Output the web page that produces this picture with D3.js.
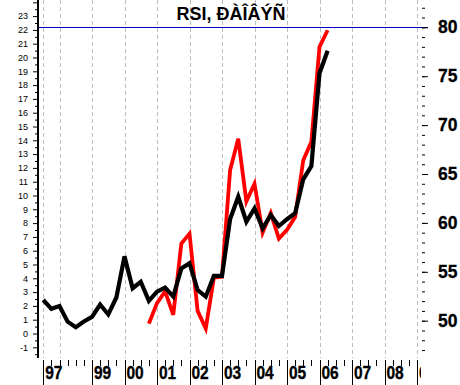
<!DOCTYPE html>
<html>
<head>
<meta charset="utf-8">
<script src="https://cdn.jsdelivr.net/npm/d3@7"></script>
<style>
body { margin: 0; background: #fff; }
svg { display: block; font-family: "Liberation Sans", Arial, sans-serif; }
</style>
</head>
<body>
<div id="container"></div>
<script>
// quarterly points, 97Q3 .. 06Q2
var periods = ["97Q3","97Q4","98Q1","98Q2","98Q3","98Q4","99Q1","99Q2","99Q3","99Q4",
  "00Q1","00Q2","00Q3","00Q4","01Q1","01Q2","01Q3","01Q4","02Q1","02Q2","02Q3","02Q4",
  "03Q1","03Q2","03Q3","03Q4","04Q1","04Q2","04Q3","04Q4","05Q1","05Q2","05Q3","05Q4",
  "06Q1","06Q2"];

// black line, left scale
var blackValues = [2.43,1.79,1.99,0.86,0.46,0.87,1.20,2.10,1.38,2.61,
  5.59,3.28,3.75,2.37,3.03,3.32,2.67,4.72,5.09,3.15,2.67,4.17,
  4.17,8.30,9.91,8.10,9.07,7.62,8.59,7.79,8.28,8.71,11.17,12.14,
  18.86,20.49];

// red line (RSI), right scale
var redValues = [null,null,null,null,null,null,null,null,null,null,
  null,null,null,49.7,51.8,53.0,50.6,57.9,58.9,51.0,49.2,54.4,
  54.5,65.4,68.6,62.2,64.0,59.0,61.0,58.4,59.3,60.6,66.4,68.3,
  78.0,79.7];

var leftTickValues = d3.range(-1, 25);        // -1 .. 24
var rightTickValues = [50, 55, 60, 65, 70, 75, 80];
var yearLabels = ["97","99","00","01","02","03","04","05","06","07","08","09"];
var yearLabelPos = [1997.5,1999,2000,2001,2002,2003,2004,2005,2006,2007,2008,2009];
var gridYears = [1997.5,1998,1999,2000,2001,2002,2003,2004,2005,2006,2007,2008,2009];
var levelLine = 80;
var title = "RSI, ÐÀÎÂÝÑ";

function periodToYear(p) {
  var yy = +p.slice(0, 2);
  var q = +p.slice(3);
  return (yy > 50 ? 1900 : 2000) + yy + (q - 1) / 4;
}

var W = 460, H = 385;
var plotTop = 0, plotBottom = 358, plotLeft = 38, plotRight = 421;

var svg = d3.select("#container").append("svg")
  .attr("width", W)
  .attr("height", H);

var x = d3.scaleLinear().domain([1998, 2009]).range([59.5, 417]);
var yL = d3.scaleLinear().domain([0, 23]).range([333.5, 16.1]);
var yR = d3.scaleLinear().domain([50, 80]).range([320.7, 27.3]);

// clip for bottom labels (09 gets cut)
svg.append("clipPath").attr("id", "clipArea")
  .append("rect").attr("x", 0).attr("y", 0).attr("width", plotRight).attr("height", H);

// vertical dashed grid
svg.append("g").selectAll("line")
  .data(gridYears)
  .enter().append("line")
  .attr("x1", function(d) { return Math.round(x(d)) + 0.5; })
  .attr("x2", function(d) { return Math.round(x(d)) + 0.5; })
  .attr("y1", plotTop)
  .attr("y2", plotBottom)
  .attr("stroke", "#bdbdbd")
  .attr("stroke-width", 1)
  .attr("stroke-dasharray", "4,3");

// level line at 80
svg.append("line")
  .attr("x1", plotLeft)
  .attr("x2", 428)
  .attr("y1", Math.round(yR(levelLine)) + 0.5)
  .attr("y2", Math.round(yR(levelLine)) + 0.5)
  .attr("stroke", "#0000c8")
  .attr("stroke-width", 1);

var data = periods.map(function(p, i) {
  return { t: periodToYear(p), black: blackValues[i], red: redValues[i] };
});

var redLine = d3.line()
  .defined(function(d) { return d.red != null; })
  .x(function(d) { return x(d.t); })
  .y(function(d) { return yR(d.red); });

var blackLine = d3.line()
  .x(function(d) { return x(d.t); })
  .y(function(d) { return yL(d.black); });

svg.append("path")
  .datum(data)
  .attr("d", redLine)
  .attr("fill", "none")
  .attr("stroke", "#ff0000")
  .attr("stroke-width", 3.8)
  .attr("stroke-linejoin", "miter");

svg.append("path")
  .datum(data)
  .attr("d", blackLine)
  .attr("fill", "none")
  .attr("stroke", "#000")
  .attr("stroke-width", 4.2)
  .attr("stroke-linejoin", "miter");

// left axis
svg.append("line")
  .attr("x1", plotLeft).attr("x2", plotLeft)
  .attr("y1", plotTop).attr("y2", plotBottom)
  .attr("stroke", "#000").attr("stroke-width", 2);

var leftMajor = svg.append("g")
  .attr("transform", "translate(" + (plotLeft - 1) + ",0)")
  .call(d3.axisLeft(yL).tickValues(leftTickValues).tickSize(4)
    .tickFormat(function(d) { return d <= 23 ? d : ""; }));
leftMajor.select(".domain").remove();
leftMajor.selectAll("text")
  .attr("x", -9)
  .style("font-family", "'Liberation Sans', Arial, sans-serif")
  .style("font-size", "9px")
  .attr("fill", "#000");

var leftMinor = svg.append("g")
  .attr("transform", "translate(" + (plotLeft - 1) + ",0)")
  .call(d3.axisLeft(yL).tickValues(d3.range(-1.5, 24, 1)).tickSize(2).tickFormat(""));
leftMinor.select(".domain").remove();

// right axis
var rightMinor = svg.append("g")
  .attr("transform", "translate(422,0)")
  .call(d3.axisRight(yR).tickValues(d3.range(47, 83)).tickSize(3).tickFormat(""));
rightMinor.select(".domain").remove();

var rightMajor = svg.append("g")
  .attr("transform", "translate(422,0)")
  .call(d3.axisRight(yR).tickValues(rightTickValues).tickSize(6));
rightMajor.select(".domain").remove();
rightMajor.selectAll("text")
  .attr("x", 16)
  .style("font-family", "'Liberation Sans', Arial, sans-serif")
  .style("font-size", "17.5px")
  .style("font-weight", "bold")
  .style("stroke", "#000")
  .style("stroke-width", "0.3px")
  .attr("fill", "#000");

// bottom axis: quarter ticks and year ticks
var bottom = svg.append("g").attr("clip-path", "url(#clipArea)");

var qTicks = d3.range(1997.75, 2009, 0.25).filter(function(d) {
  return yearLabelPos.indexOf(d) < 0;
});

bottom.selectAll("line.q")
  .data(qTicks)
  .enter().append("line")
  .attr("class", "q")
  .attr("x1", function(d) { return Math.round(x(d)) + 0.5; })
  .attr("x2", function(d) { return Math.round(x(d)) + 0.5; })
  .attr("y1", 360)
  .attr("y2", 366)
  .attr("stroke", "#000");

bottom.selectAll("line.y")
  .data(yearLabelPos)
  .enter().append("line")
  .attr("class", "y")
  .attr("x1", function(d) { return Math.round(x(d)) + 0.5; })
  .attr("x2", function(d) { return Math.round(x(d)) + 0.5; })
  .attr("y1", 360)
  .attr("y2", H)
  .attr("stroke", "#000");

bottom.selectAll("text")
  .data(yearLabels)
  .enter().append("text")
  .attr("transform", function(d, i) {
    return "translate(" + (x(yearLabelPos[i]) + 2) + ",378.5) scale(1,1.2)";
  })
  .style("font-size", "15.5px")
  .style("font-weight", "bold")
  .style("stroke", "#000")
  .style("stroke-width", "0.3px")
  .text(function(d) { return d; });

// title
svg.append("text")
  .attr("x", 231)
  .attr("y", 20)
  .attr("text-anchor", "middle")
  .style("font-size", "18px")
  .style("font-weight", "bold")
  .text(title);
</script>
</body>
</html>
